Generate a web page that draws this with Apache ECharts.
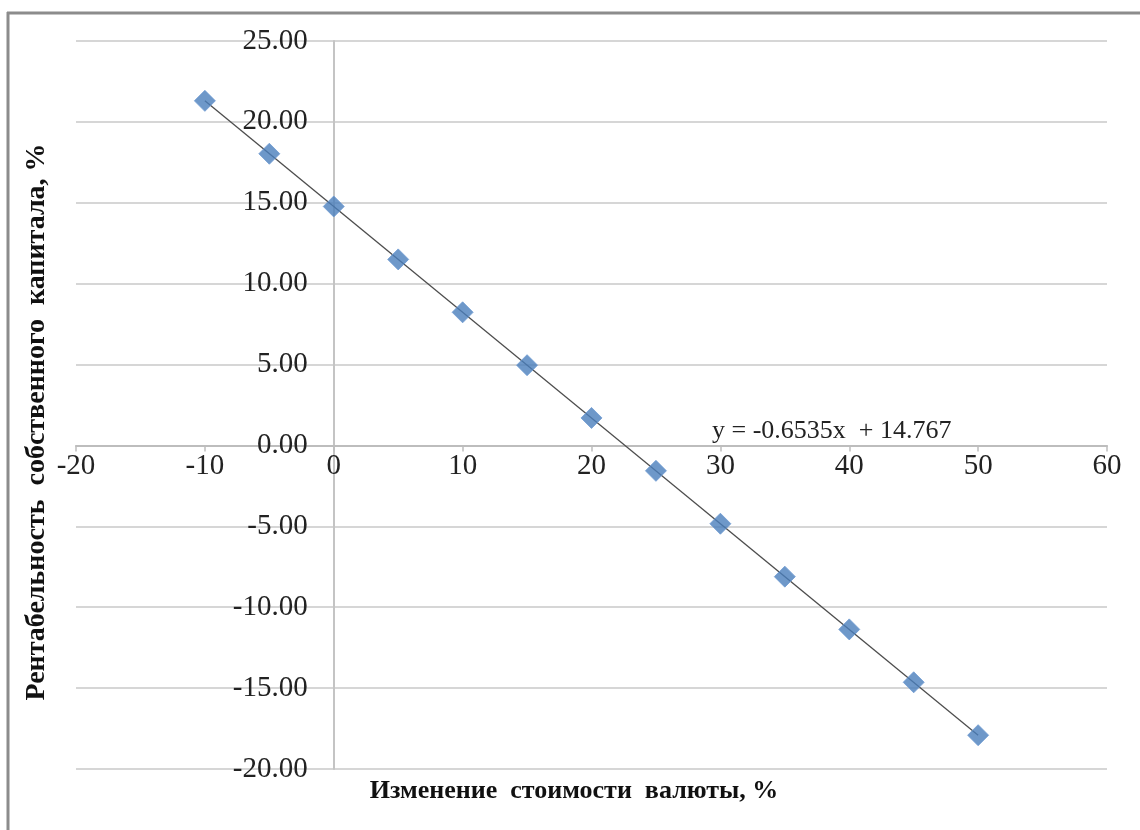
<!DOCTYPE html>
<html>
<head>
<meta charset="utf-8">
<script src="https://cdn.jsdelivr.net/npm/echarts@6/dist/echarts.min.js"></script>
<style>
html,body{margin:0;padding:0;background:#fff;}
#c{width:1140px;height:830px;}
</style>
</head>
<body>
<div id="c"></div>
<script>
// Data
const xValues = [-10, -5, 0, 5, 10, 15, 20, 25, 30, 35, 40, 45, 50];
const yValues = [21.30, 18.03, 14.77, 11.50, 8.23, 4.96, 1.70, -1.57, -4.84, -8.11, -11.37, -14.64, -17.91];
// Trend line endpoints (as drawn in the picture)
const trendX = [-10, 50];
const trendY = [21.30, -17.91];
const trendLabel = 'y = -0.6535x  + 14.767';
const xTitle = 'Изменение  стоимости  валюты, %';
const yTitle = 'Рентабельность  собственного  капитала, %';
const xRange = [-20, 60];
const yRange = [-20, 25];

const W = 1140, H = 830;
const G = {left: 76, right: 33, top: 41, bottom: 61};
const plotW = W - G.left - G.right, plotH = H - G.top - G.bottom;
// shift the axes so they cross at (0, 0), like the original
const yAxisOffset = -plotW * (0 - xRange[0]) / (xRange[1] - xRange[0]);
const xAxisOffset = -plotH * (0 - yRange[0]) / (yRange[1] - yRange[0]);

const chart = echarts.init(document.getElementById('c'), null, {renderer: 'canvas'});
const serif = '"Liberation Serif", "DejaVu Serif", serif';

chart.setOption({
  backgroundColor: '#ffffff',
  animation: false,
  grid: {left: G.left, right: G.right, top: G.top, bottom: G.bottom, containLabel: false},
  xAxis: {
    type: 'value', min: xRange[0], max: xRange[1], interval: 10,
    position: 'bottom', offset: xAxisOffset,
    axisLine: {onZero: false, lineStyle: {color: '#bdbdbd', width: 2}},
    axisTick: {show: true, length: 6, lineStyle: {color: '#bdbdbd', width: 1.5}},
    axisLabel: {fontFamily: serif, fontSize: 29, color: '#222', margin: 6},
    splitLine: {show: false}
  },
  yAxis: {
    type: 'value', min: yRange[0], max: yRange[1], interval: 5,
    position: 'left', offset: yAxisOffset,
    axisLine: {onZero: false, lineStyle: {color: '#c4c4c4', width: 2}},
    axisTick: {show: false},
    axisLabel: {fontFamily: serif, fontSize: 29, color: '#222', margin: 26,
      formatter: v => v.toFixed(2)},
    splitLine: {show: true, lineStyle: {color: '#d6d6d6', width: 2}}
  },
  series: [
    {
      type: 'line',
      data: trendX.map((x, i) => [x, trendY[i]]),
      symbol: 'none',
      lineStyle: {color: '#4d4d4d', width: 1.3},
      z: 2, silent: true
    },
    {
      type: 'scatter',
      data: xValues.map((x, i) => [x, yValues[i]]),
      symbol: 'diamond',
      symbolSize: 21,
      itemStyle: {color: '#4a7ebb', borderColor: '#6d9ad2', borderWidth: 1},
      z: 3
    }
  ],
  graphic: [
    {type: 'line', shape: {x1: 7, y1: 13, x2: 1140, y2: 13}, style: {stroke: '#8c8c8c', lineWidth: 3}},
    {type: 'line', shape: {x1: 8, y1: 12, x2: 8, y2: 830}, style: {stroke: '#8c8c8c', lineWidth: 3}},
    {type: 'text', left: 712, top: 418, style: {text: trendLabel, font: '26px ' + serif, fill: '#222'}},
    {type: 'text', x: 574, y: 791, style: {text: xTitle, font: 'bold 26px ' + serif, fill: '#111', textAlign: 'center', textVerticalAlign: 'middle'}},
    {type: 'text', x: 37, y: 422, rotation: Math.PI / 2, style: {text: yTitle, font: 'bold 28px ' + serif, fill: '#111', textAlign: 'center', textVerticalAlign: 'middle'}}
  ]
});
</script>
</body>
</html>
